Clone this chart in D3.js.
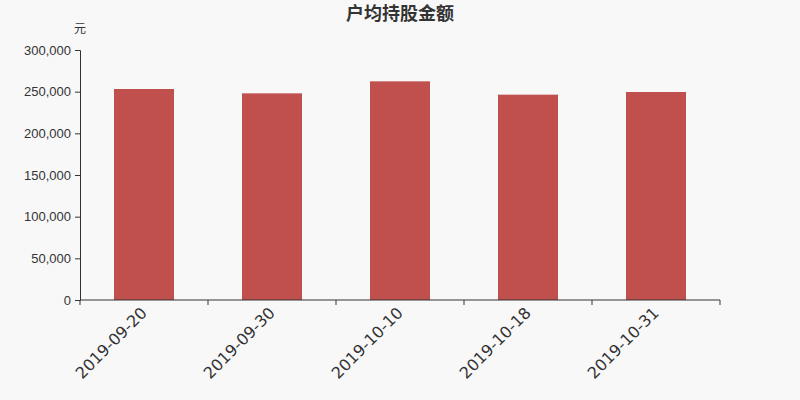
<!DOCTYPE html>
<html>
<head>
<meta charset="utf-8">
<script src="https://cdn.jsdelivr.net/npm/d3@7/dist/d3.min.js"></script>
<style>
  body { margin: 0; background: #f8f8f8; }
  svg { display: block; font-family: "DejaVu Sans", sans-serif; }
</style>
</head>
<body>
<svg id="canvas" width="800" height="400"></svg>
<script>
const dates = ['2019-09-20', '2019-09-30', '2019-10-10', '2019-10-18', '2019-10-31'];
const amounts = [253200, 248000, 262400, 246400, 249600];
const yTicks = [0, 50000, 100000, 150000, 200000, 250000, 300000];

const svg = d3.select('#canvas');
const plotLeft = 80, plotRight = 720, plotTop = 50, plotBottom = 300;

svg.append('rect').attr('width', 800).attr('height', 400).attr('fill', '#f8f8f8');

const x = d3.scaleBand().domain(dates).range([plotLeft, plotRight]);
const y = d3.scaleLinear().domain([0, 300000]).range([plotBottom, plotTop]);

// bars
const barW = 60;
svg.selectAll('rect.bar')
    .data(dates)
    .enter()
    .append('rect')
    .attr('class', 'bar')
    .attr('x', (d) => x(d) + x.bandwidth() / 2 - barW / 2)
    .attr('width', barW)
    .attr('y', (d, i) => y(amounts[i]))
    .attr('height', (d, i) => plotBottom - y(amounts[i]))
    .attr('fill', '#c0504e');

// y axis
const yAxis = svg.append('g')
    .attr('transform', `translate(${plotLeft},0)`)
    .call(d3.axisLeft(y).tickValues(yTicks).tickSize(5).tickPadding(4).tickFormat(d3.format(',')));
yAxis.select('.domain').attr('stroke', '#333');
yAxis.selectAll('.tick line').attr('stroke', '#333');
yAxis.selectAll('.tick text').attr('fill', '#333').style('font-size', '13px');

// x axis, ticks on band edges
const xAxis = svg.append('g').attr('transform', `translate(0,${plotBottom})`);
xAxis.append('line').attr('x1', plotLeft).attr('x2', plotRight).attr('stroke', '#333');
const edges = dates.map(d => x(d)).concat([plotRight]);
xAxis.selectAll('line.edge')
    .data(edges)
    .enter()
    .append('line')
    .attr('class', 'edge')
    .attr('x1', d => d).attr('x2', d => d)
    .attr('y1', 0).attr('y2', 5)
    .attr('stroke', '#333');
xAxis.selectAll('text')
    .data(dates)
    .enter()
    .append('text')
    .attr('transform', d => `translate(${x(d) + x.bandwidth() / 2},${10}) rotate(-45)`)
    .attr('text-anchor', 'end')
    .attr('dy', '0.35em')
    .attr('fill', '#333')
    .style('font-size', '16px')
    .text(d => d);

// title and unit
svg.append('text')
    .attr('x', 400).attr('y', 20)
    .attr('text-anchor', 'middle')
    .attr('fill', '#333')
    .style('font-size', '18px')
    .style('font-weight', 'bold')
    .style('font-family', '"Noto Sans CJK SC", sans-serif')
    .text('户均持股金额');

svg.append('text')
    .attr('x', 80).attr('y', 33)
    .attr('text-anchor', 'middle')
    .attr('fill', '#333')
    .style('font-size', '12px')
    .style('font-family', '"Noto Sans CJK SC", sans-serif')
    .text('元');
</script>
</body>
</html>
